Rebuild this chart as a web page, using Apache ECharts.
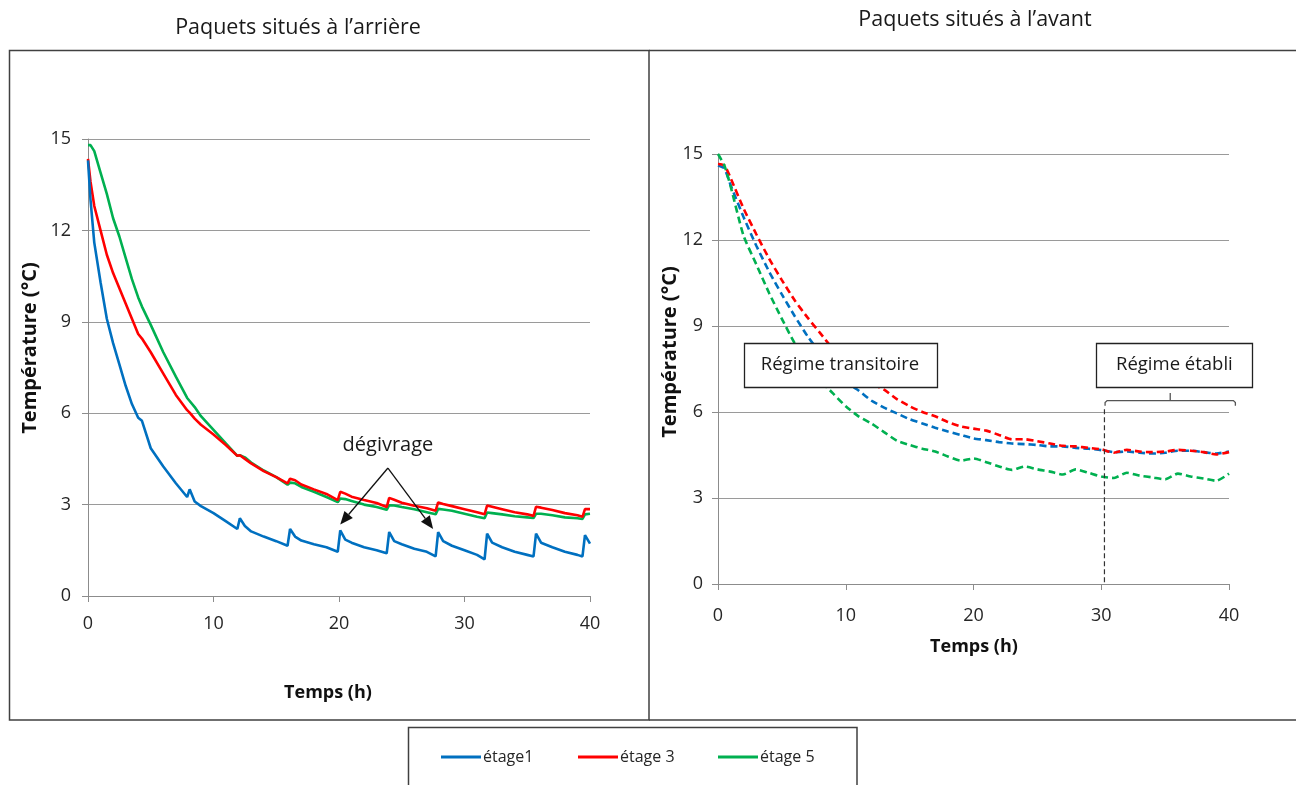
<!DOCTYPE html>
<html><head><meta charset="utf-8">
<script src="https://cdn.jsdelivr.net/npm/echarts@6/dist/echarts.min.js"></script>
<style>html,body{margin:0;padding:0;background:#fff}#c{width:1296px;height:785px}</style>
</head><body><div id="c"></div>
<script>
// ---------- DATA ----------
const seriesNames = ['étage1', 'étage 3', 'étage 5'];
const colors = ['#0070C0', '#FF0000', '#00B050'];
const yTicks = [0, 3, 6, 9, 12, 15];
const xTicks = [0, 10, 20, 30, 40];

// Left panel: packages at the rear (hours)
const leftTime = [0,0.2,0.5,1,1.5,2,2.5,3,3.5,4,4.3,5,6,7,7.9,8.1,8.5,9,10,11,11.9,12.1,12.5,13,14,15,15.9,16.1,16.5,17,18,19,19.9,20.1,20.5,21,22,23,23.8,24.0,24.4,25,26,27,27.7,27.9,28.3,29,30,31,31.6,31.8,32.2,33,34,35,35.5,35.7,36.1,37,38,39,39.4,39.6,40];
const leftEtage1 = [14.3,13.0,11.6,10.3,9.1,8.3,7.6,6.9,6.3,5.85,
  5.75,4.85,4.25,3.7,3.25,3.5,3.1,2.95,2.72,2.45,
  2.2,2.55,2.3,2.12,1.95,1.8,1.65,2.2,1.95,1.82,
  1.7,1.6,1.45,2.15,1.85,1.75,1.6,1.5,1.4,2.1,
  1.8,1.7,1.55,1.45,1.3,2.1,1.8,1.65,1.5,1.35,
  1.2,2.05,1.75,1.6,1.45,1.35,1.3,2.05,1.75,1.6,
  1.45,1.35,1.3,2.0,1.72];
const leftEtage3 = [14.35,13.6,12.8,12.0,11.2,10.6,10.1,9.6,9.1,8.6,
  8.45,8.0,7.3,6.6,6.1,6.02,5.82,5.62,5.3,4.95,
  4.6,4.62,4.5,4.35,4.1,3.9,3.7,3.85,3.8,3.66,
  3.5,3.35,3.15,3.42,3.36,3.26,3.15,3.05,2.92,3.22,
  3.16,3.06,2.96,2.88,2.8,3.07,3.02,2.95,2.85,2.75,
  2.68,2.97,2.93,2.85,2.75,2.68,2.63,2.93,2.9,2.82,
  2.72,2.65,2.6,2.85,2.85];
const leftEtage5 = [14.8,14.8,14.6,13.9,13.2,12.4,11.8,11.1,10.4,9.8,
  9.5,8.9,8.0,7.2,6.5,6.4,6.2,5.9,5.45,5.0,
  4.6,4.62,4.55,4.38,4.12,3.9,3.65,3.72,3.7,3.58,
  3.42,3.25,3.08,3.2,3.18,3.12,3.0,2.92,2.83,2.98,
  2.97,2.92,2.85,2.75,2.68,2.86,2.84,2.8,2.7,2.6,
  2.55,2.74,2.72,2.68,2.62,2.58,2.56,2.7,2.7,2.65,
  2.58,2.55,2.53,2.68,2.7];

// Right panel: packages at the front (hours)
const rightTime = [0,0.5,1,2,3,4,5,6,7,8,9,10,11,12,13,14,15,16,17,18,19,20,21,22,23,24,25,26,27,28,29,30,31,32,33,34,35,36,37,38,39,40];
const rightEtage1 = [14.6,14.5,13.9,12.8,11.8,10.9,10.1,9.35,8.65,8.05,7.5,7.05,6.75,6.4,6.15,5.95,5.75,5.6,5.45,5.32,5.2,5.08,5.02,4.95,4.9,4.88,4.85,4.8,4.8,4.75,4.72,4.67,4.6,4.62,4.58,4.55,4.58,4.65,4.65,4.6,4.55,4.62];
const rightEtage3 = [14.65,14.6,14.15,13.1,12.2,11.35,10.6,9.9,9.3,8.75,8.2,7.7,7.3,7.0,6.78,6.45,6.2,6.0,5.85,5.65,5.5,5.42,5.35,5.2,5.05,5.05,4.98,4.9,4.82,4.8,4.75,4.7,4.58,4.68,4.62,4.6,4.62,4.68,4.65,4.6,4.52,4.6];
const rightEtage5 = [15.0,14.6,13.85,12.15,11.15,10.15,9.25,8.4,7.7,7.1,6.65,6.2,5.85,5.6,5.3,5.0,4.85,4.72,4.62,4.45,4.3,4.38,4.25,4.1,3.98,4.1,4.0,3.92,3.82,4.0,3.88,3.75,3.7,3.88,3.78,3.72,3.65,3.85,3.75,3.68,3.6,3.85];

// Texts
const titleLeft = 'Paquets situés à l’arrière';
const titleRight = 'Paquets situés à l’avant';
const yName = 'Température (°C)';
const xName = 'Temps (h)';
const defrostLabel = 'dégivrage';
const transLabel = 'Régime transitoire';
const steadyLabel = 'Régime établi';

// ---------- CHART ----------
const FONT = '"Open Sans", "Noto Sans", sans-serif';
const chart = echarts.init(document.getElementById('c'), null, {renderer: 'canvas'});

function pairs(t, v) { return t.map((x, i) => [x, v[i]]); }

function xAxisCfg(grid, margin) {
  return {
    type: 'value', gridIndex: grid, min: 0, max: 40, interval: 10,
    axisLine: {show: true, lineStyle: {color: '#8c8c8c', width: 1}},
    axisTick: {show: true, length: 6, lineStyle: {color: '#8c8c8c'}},
    splitLine: {show: false},
    axisLabel: {fontSize: 18, color: '#262626', margin: margin, fontFamily: FONT}
  };
}
function yAxisCfg(grid, margin) {
  return {
    type: 'value', gridIndex: grid, min: 0, max: 15, interval: 3,
    axisLine: {show: true, lineStyle: {color: '#8c8c8c', width: 1}},
    axisTick: {show: true, length: 6, lineStyle: {color: '#8c8c8c'}},
    splitLine: {show: true, lineStyle: {color: '#9a9a9a', width: 1}},
    axisLabel: {fontSize: 18, color: '#262626', margin: margin, fontFamily: FONT}
  };
}

const leftData = [leftEtage1, leftEtage3, leftEtage5];
const rightData = [rightEtage1, rightEtage3, rightEtage5];
const series = [];
leftData.forEach((d, i) => series.push({
  name: seriesNames[i], type: 'line', xAxisIndex: 0, yAxisIndex: 0,
  data: pairs(leftTime, d), showSymbol: false, symbol: 'none', smooth: false,
  lineStyle: {color: colors[i], width: 2.6}, itemStyle: {color: colors[i]},
  z: 3 + (2 - i), animation: false
}));
rightData.forEach((d, i) => series.push({
  name: seriesNames[i], type: 'line', xAxisIndex: 1, yAxisIndex: 1,
  data: pairs(rightTime, d), showSymbol: false, symbol: 'none', smooth: 0.2,
  lineStyle: {color: colors[i], width: 2.6, type: [7, 4]}, itemStyle: {color: colors[i]},
  z: 3 + i, animation: false
}));

const legendLefts = [436, 573, 713];
const legends = seriesNames.map((n, i) => ({
  data: [n], left: legendLefts[i], top: 744, itemWidth: 40, itemHeight: 14, itemGap: 6,
  icon: 'path://M0,6 L40,6 L40,9 L0,9 Z',
  textStyle: {fontSize: 16, color: '#262626', fontFamily: FONT, padding: [0,0,0,-3]}
}));

chart.setOption({
  animation: false,
  backgroundColor: '#fff',
  grid: [
    {left: 88, top: 139, width: 502, height: 457},
    {left: 718, top: 154, width: 511, height: 430}
  ],
  xAxis: [xAxisCfg(0, 19), xAxisCfg(1, 23)],
  yAxis: [yAxisCfg(0, 17), yAxisCfg(1, 15)],
  legend: legends,
  series: series
});

// ---------- ANNOTATIONS (positioned from data coordinates) ----------
const P = (g, x, y) => chart.convertToPixel({gridIndex: g}, [x, y]);
const g = [];
const border = '#404040';
// panel frames
g.push({type: 'rect', shape: {x: 9.5, y: 50.5, width: 639.5, height: 669.5}, style: {fill: null, stroke: border, lineWidth: 1.5}, z: 1});
g.push({type: 'polyline', shape: {points: [[649, 50.5], [1296, 50.5]]}, style: {stroke: border, lineWidth: 1.5, fill: null}});
g.push({type: 'polyline', shape: {points: [[649, 720], [1296, 720]]}, style: {stroke: border, lineWidth: 1.5, fill: null}});
// legend frame
g.push({type: 'rect', shape: {x: 408.5, y: 727.5, width: 448.5, height: 70}, style: {fill: null, stroke: border, lineWidth: 1.5}});
// titles
g.push({type: 'text', x: 298, y: 28, style: {text: titleLeft, fontSize: 21.5, fontFamily: FONT, fill: '#1a1a1a', textAlign: 'center', textVerticalAlign: 'middle'}});
g.push({type: 'text', x: 975, y: 20, style: {text: titleRight, fontSize: 21.5, fontFamily: FONT, fill: '#1a1a1a', textAlign: 'center', textVerticalAlign: 'middle'}});
// axis names
const bold = {fontWeight: 'bold', fontFamily: FONT, fill: '#111', textAlign: 'center', textVerticalAlign: 'middle'};
g.push({type: 'text', x: 30, y: 348, rotation: Math.PI / 2, style: Object.assign({text: yName, fontSize: 20}, bold)});
g.push({type: 'text', x: 670, y: 352, rotation: Math.PI / 2, style: Object.assign({text: yName, fontSize: 20}, bold)});
g.push({type: 'text', x: 328, y: 693, style: Object.assign({text: xName, fontSize: 18}, bold)});
g.push({type: 'text', x: 974, y: 647, style: Object.assign({text: xName, fontSize: 18}, bold)});

// defrost label and arrows (left panel)
const lab = P(0, 23.9, 4.95);
g.push({type: 'text', x: lab[0], y: lab[1], style: {text: defrostLabel, fontSize: 20, fontFamily: FONT, fill: '#1a1a1a', textAlign: 'center', textVerticalAlign: 'middle'}, z: 10});
function arrow(p0, p1) {
  const dx = p1[0] - p0[0], dy = p1[1] - p0[1];
  const L = Math.hypot(dx, dy), ux = dx / L, uy = dy / L;
  const hl = 13, hw = 5.5;
  const bx = p1[0] - ux * hl, by = p1[1] - uy * hl;
  g.push({type: 'line', shape: {x1: p0[0], y1: p0[1], x2: bx, y2: by}, style: {stroke: '#111', lineWidth: 1.3}, z: 10});
  g.push({type: 'polygon', shape: {points: [[p1[0], p1[1]], [bx - uy * hw, by + ux * hw], [bx + uy * hw, by - ux * hw]]}, style: {fill: '#111'}, z: 10});
}
const aO = P(0, 23.9, 4.2);
arrow(aO, P(0, 20.1, 2.35));
arrow(aO, P(0, 27.5, 2.2));

// right panel boxes
function box(x0, y0, x1, y1, text) {
  const a = P(1, x0, y0), b = P(1, x1, y1);
  g.push({type: 'rect', shape: {x: Math.round(a[0]) + 0.5, y: Math.round(a[1]) + 0.5, width: Math.round(b[0] - a[0]), height: Math.round(b[1] - a[1])}, style: {fill: '#fff', stroke: '#222', lineWidth: 1.3}, z: 20});
  g.push({type: 'text', x: (a[0] + b[0]) / 2, y: (a[1] + b[1]) / 2, style: {text: text, fontSize: 18.5, fontFamily: FONT, fill: '#1a1a1a', textAlign: 'center', textVerticalAlign: 'middle'}, z: 21});
}
box(2.0, 8.41, 17.1, 6.87, transLabel);
box(29.6, 8.41, 41.85, 6.87, steadyLabel);

// bracket over steady regime
const bl = P(1, 30.3, 6.22), br = P(1, 40.5, 6.22), bt = P(1, 35.4, 6.40), bc = P(1, 35.4, 6.66);
g.push({type: 'polyline', shape: {points: [[bl[0], bl[1]], [bl[0], bt[1] + 2], [bl[0] + 2, bt[1]], [br[0] - 2, bt[1]], [br[0], bt[1] + 2], [br[0], br[1]]]}, style: {stroke: '#555', lineWidth: 1.3, fill: null}, z: 20});
g.push({type: 'line', shape: {x1: bc[0], y1: bt[1], x2: bc[0], y2: bc[1]}, style: {stroke: '#555', lineWidth: 1.3}, z: 20});
// dashed separator at ~30 h
const d0 = P(1, 30.25, 6.1), d1 = P(1, 30.25, 0);
g.push({type: 'line', shape: {x1: d0[0], y1: d0[1], x2: d1[0], y2: d1[1]}, style: {stroke: '#333', lineWidth: 1.2, lineDash: [5, 3]}, z: 20});

chart.setOption({graphic: g});
</script>
</body></html>
